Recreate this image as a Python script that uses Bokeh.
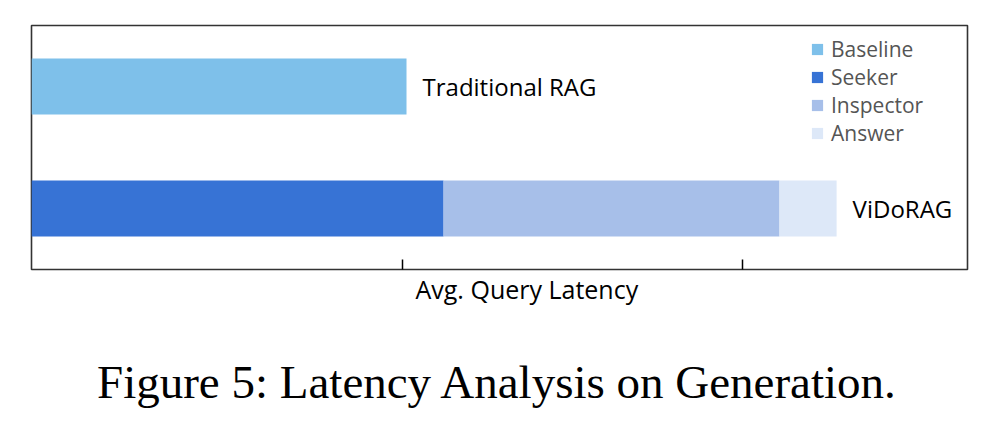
from bokeh.plotting import figure
from bokeh.models import ColumnDataSource, FactorRange, FixedTicker, Title, Div, CustomJSTickFormatter
from bokeh.layouts import column
from bokeh.core.properties import value
from bokeh.embed import file_html
from bokeh.resources import INLINE

# ---- data ----
methods = ["Traditional RAG", "ViDoRAG"]
stages = ["Baseline", "Seeker", "Inspector", "Answer"]
baseline = [11.03, 0.0]
seeker = [0.0, 12.12]
inspector = [0.0, 9.88]
answer = [0.0, 1.68]
tick_values = [10.91, 20.91]
x_max = 27.53
colors = ["#7ec0ea", "#3773d5", "#a7bfe9", "#dde8f8"]

FONT = "Open Sans"

totals = [b + s + i + a for b, s, i, a in zip(baseline, seeker, inspector, answer)]
src = ColumnDataSource(dict(method=methods, Baseline=baseline, Seeker=seeker,
                            Inspector=inspector, Answer=answer, total=totals))

p = figure(width=984, height=314, output_backend="svg", toolbar_location=None,
           y_range=FactorRange(factors=["ViDoRAG", "Traditional RAG"], range_padding=0),
           x_range=(0, x_max),
           min_border_left=31, min_border_right=17, min_border_top=25, min_border_bottom=45)

p.hbar_stack(stages, y="method", height=0.46, color=colors, source=src,
             line_color=None, legend_label=stages)

p.text(x="total", y="method", text="method", source=src, x_offset=16,
       text_baseline="middle", text_align="left", text_color="black",
       text_font=value(FONT), text_font_size="24px")

p.xgrid.visible = False
p.ygrid.visible = False
p.yaxis.visible = False
p.outline_line_color = "#333333"
p.outline_line_width = 1.6

ax = p.xaxis[0]
ax.ticker = FixedTicker(ticks=tick_values)
ax.formatter = CustomJSTickFormatter(code="return ''")
ax.major_tick_in = 10
ax.major_tick_out = 0
ax.minor_tick_line_color = None
ax.axis_line_color = None
ax.major_tick_line_color = "black"
ax.major_tick_line_width = 1.5
ax.major_label_standoff = 0
ax.major_label_text_font_size = "4px"

xl = Title(text="Avg. Query Latency", align="left", offset=384,
           text_font=FONT, text_font_size="25px", text_font_style="normal",
           text_color="black", standoff=0)
p.add_layout(xl, "below")

lg = p.legend[0]
lg.location = (779, 122)
lg.background_fill_alpha = 0
lg.border_line_alpha = 0
lg.padding = 0
lg.margin = 0
lg.spacing = 0
lg.glyph_width = 14
lg.glyph_height = 14
lg.label_standoff = 7
lg.label_text_font = FONT
lg.label_text_font_size = "21px"
lg.label_text_color = "#555555"

cap = Div(text="Figure 5: Latency Analysis on Generation.", width=900, height=56,
          margin=(40, 0, 0, 97),
          styles={"font-family": "'Liberation Serif', serif", "font-size": "47px",
                  "line-height": "56px", "color": "black", "white-space": "nowrap"})

layout = column(p, cap, spacing=0)
open("out.html", "w").write(file_html(layout, INLINE))
